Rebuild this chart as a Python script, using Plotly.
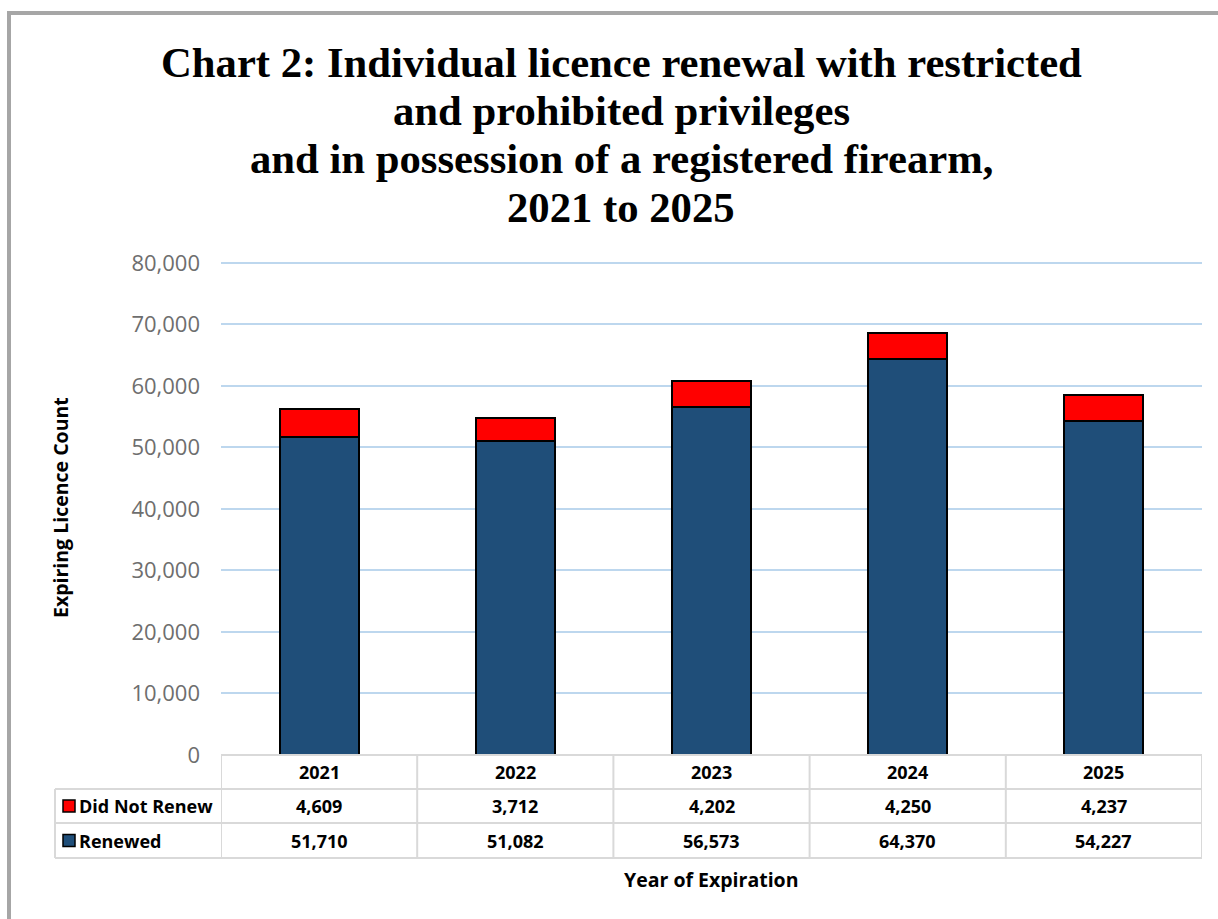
import plotly.graph_objects as go

years = ["2021", "2022", "2023", "2024", "2025"]
renewed = [51710, 51082, 56573, 64370, 54227]
did_not_renew = [4609, 3712, 4202, 4250, 4237]
series_names = ["Did Not Renew", "Renewed"]
series_colors = ["#FF0000", "#1F4E79"]
title_lines = ["Chart 2: Individual licence renewal with restricted",
               "and prohibited privileges",
               "and in possession of a registered firearm,",
               "2021 to 2025"]
y_ticks = [0, 10000, 20000, 30000, 40000, 50000, 60000, 70000, 80000]

W, H = 1218, 919
YMAX = 80800
# 0 at 755 px, 80000 at 263 px
PPU = (755 - 263) / 80000
L, R, B = 221, 16, H - 755
T = int(round(755 - YMAX * PPU))
PW = W - L - R
PH = H - T - B


def px_x(px):
    return (px - L) / PW


def px_y(py):
    return (H - B - py) / PH


fig = go.Figure()
fig.add_trace(go.Bar(x=years, y=renewed, name=series_names[1],
                     marker=dict(color=series_colors[1], line=dict(color="black", width=2))))
fig.add_trace(go.Bar(x=years, y=did_not_renew, name=series_names[0],
                     marker=dict(color=series_colors[0], line=dict(color="black", width=2))))

shapes = []
annotations = []
grid_col = "#D9D9D9"

# table rows (pixel y of lines)
row_lines = [755, 789, 823, 858]
ry = [px_y(v) for v in row_lines]
left_px = 55
shapes.append(dict(type="line", xref="x", yref="paper", x0=-0.5, x1=len(years) - 0.5,
                   y0=ry[0], y1=ry[0], line=dict(color=grid_col, width=2)))
for yy in ry[1:]:
    shapes.append(dict(type="line", xref="paper", yref="paper", x0=px_x(left_px), x1=1.0,
                       y0=yy, y1=yy, line=dict(color=grid_col, width=2)))
for i in range(len(years) + 1):
    shapes.append(dict(type="line", xref="x", yref="paper", x0=i - 0.5, x1=i - 0.5,
                       y0=ry[0], y1=ry[3], line=dict(color=grid_col, width=2)))
shapes.append(dict(type="line", xref="paper", yref="paper", x0=px_x(left_px), x1=px_x(left_px),
                   y0=ry[1], y1=ry[3], line=dict(color=grid_col, width=2)))

tfont = dict(family="Open Sans", size=18, color="black", weight="bold")
row_centers = [(ry[0] + ry[1]) / 2, (ry[1] + ry[2]) / 2, (ry[2] + ry[3]) / 2]
for i, yr in enumerate(years):
    for r, txt in enumerate([yr, f"{did_not_renew[i]:,}", f"{renewed[i]:,}"]):
        annotations.append(dict(x=i, y=row_centers[r], xref="x", yref="paper", text=txt,
                                xanchor="center", yanchor="middle",
                                showarrow=False, font=tfont))

# legend keys in table
for k, (nm, col) in enumerate(zip(series_names, series_colors)):
    cy = row_centers[1 + k]
    half = 6 / PH
    shapes.append(dict(type="rect", xref="paper", yref="paper",
                       x0=px_x(63), x1=px_x(75), y0=cy - half, y1=cy + half,
                       fillcolor=col, line=dict(color="black", width=1.5)))
    annotations.append(dict(x=px_x(77), y=cy, xref="paper", yref="paper", text=nm,
                            showarrow=False, xanchor="left", yanchor="middle", font=tfont))

# outer border
shapes.append(dict(type="rect", xref="paper", yref="paper",
                   x0=px_x(9), x1=px_x(W + 20), y0=px_y(H + 20), y1=px_y(13),
                   line=dict(color="#A6A6A6", width=4), layer="below"))

# axis titles
afont = dict(family="Open Sans", size=19.5, color="black", weight="bold")
annotations.append(dict(x=px_x(60), y=px_y(508), xref="paper", yref="paper",
                        xanchor="center", yanchor="middle",
                        text="Expiring Licence Count", textangle=-90, showarrow=False, font=afont))
annotations.append(dict(x=px_x(711), y=px_y(879), xref="paper", yref="paper",
                        xanchor="center", yanchor="middle",
                        text="Year of Expiration", showarrow=False, font=afont))

# title lines
title_centers = [62, 110, 158, 207]
for line, cy in zip(title_lines, title_centers):
    annotations.append(dict(x=px_x(621), y=px_y(cy), xref="paper", yref="paper",
                            text=line, showarrow=False, xanchor="center", yanchor="middle",
                            font=dict(family="Liberation Serif", size=42.7, color="black",
                                      weight="bold")))

fig.update_layout(
    width=W, height=H,
    margin=dict(l=L, r=R, t=T, b=B),
    paper_bgcolor="white", plot_bgcolor="white",
    barmode="stack", bargap=0.597,
    showlegend=False,
    xaxis=dict(type="category", showticklabels=False, showgrid=False, zeroline=False,
               showline=False, range=[-0.5, len(years) - 0.5]),
    yaxis=dict(range=[0, YMAX], tickvals=y_ticks,
               tickformat=",", showgrid=True,
               gridcolor="#BDD7EE", gridwidth=2, zeroline=False, showline=False,
               ticks="", ticklabelstandoff=20,
               tickfont=dict(family="Open Sans", size=22, color="#6E6E6E")),
    shapes=shapes, annotations=annotations,
)

fig.write_html("out.html", config={"displayModeBar": False},
               post_script="document.body.style.margin='0';")
